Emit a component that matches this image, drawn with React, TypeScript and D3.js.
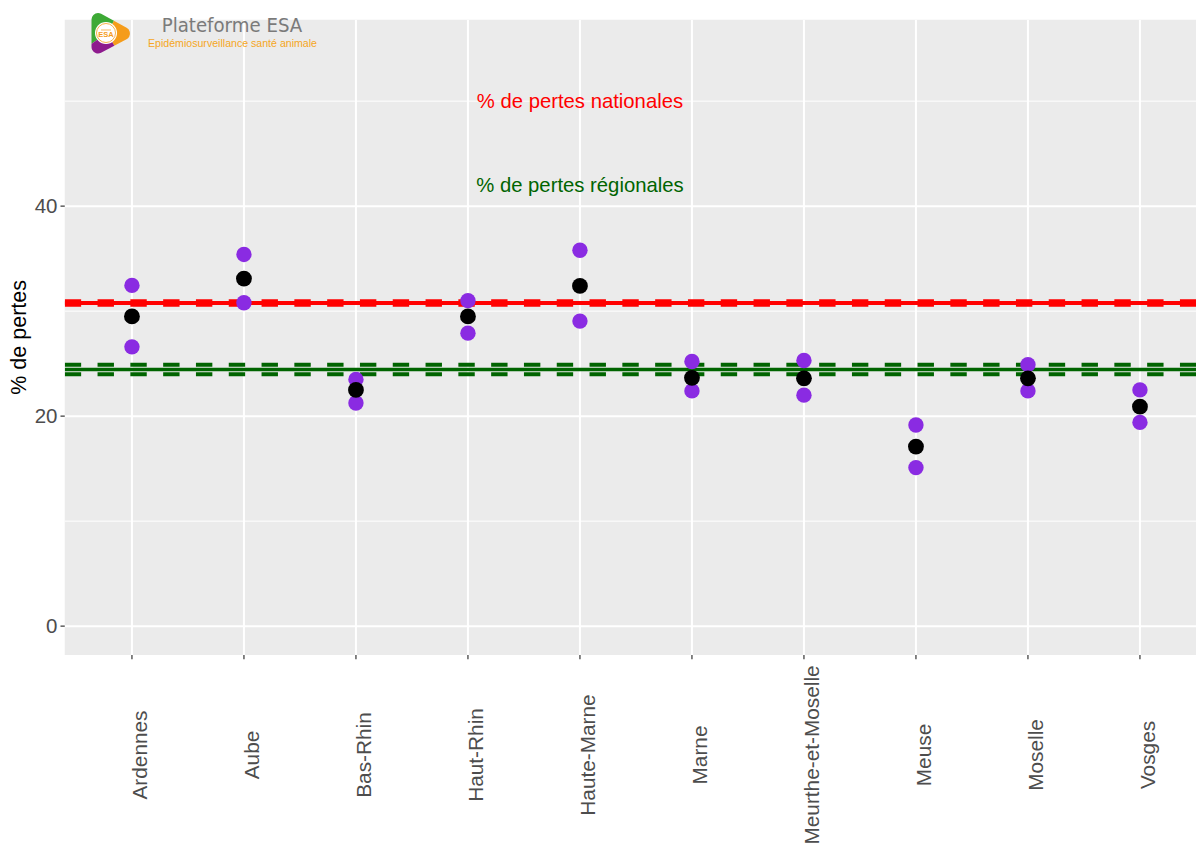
import React from "react";
import * as d3 from "d3";

const categories = ["Ardennes", "Aube", "Bas-Rhin", "Haut-Rhin", "Haute-Marne", "Marne", "Meurthe-et-Moselle", "Meuse", "Moselle", "Vosges"];
const moyenne = [29.5, 33.1, 22.5, 29.5, 32.4, 23.65, 23.6, 17.1, 23.6, 20.9];
const icHaut = [32.45, 35.4, 23.5, 31.0, 35.8, 25.2, 25.3, 19.15, 24.9, 22.5];
const icBas = [26.6, 30.8, 21.25, 27.9, 29.05, 22.4, 22.0, 15.1, 22.4, 19.4];

const national = 30.77;
const nationalHaut = 30.95;
const nationalBas = 30.6;
const regional = 24.45;
const regionalHaut = 24.9;
const regionalBas = 23.98;

const yMajor = [0, 20, 40];
const yMinor = [10, 30, 50];

const W = 1196;
const H = 846;
const panel = { left: 64.75, top: 19.75, right: 1207.15, bottom: 655 };

export default function App() {
  const x = d3.scalePoint<string>().domain(categories).range([panel.left, panel.right]).padding(0.6);
  const y = d3.scaleLinear().domain([-2.75, 57.75]).range([panel.bottom, panel.top]);
  const sans = "'Liberation Sans', Arial, Helvetica, sans-serif";
  const dash = "16.4 16.4";

  const logoC = [107, 33];
  const arc = d3.arc<any>().innerRadius(0).outerRadius(34);
  const deg = Math.PI / 180;
  const sectors = [
    { s: -125 * deg, e: 30 * deg, c: "#3DA935" },
    { s: 30 * deg, e: 150 * deg, c: "#F59C1A" },
    { s: 150 * deg, e: 235 * deg, c: "#8E1B8E" },
  ];

  return (
    <svg width={W} height={H} style={{ position: "absolute", left: 0, top: 0, background: "#fff" }} fontFamily={sans}>
      <defs>
        <clipPath id="panelClip">
          <rect x={panel.left} y={panel.top} width={panel.right - panel.left} height={panel.bottom - panel.top} />
        </clipPath>
        <mask id="logoMask">
          <path d="M98,19.5 L123.5,33.5 L98,47 Z" fill="#fff" stroke="#fff" strokeWidth={13} strokeLinejoin="round" />
        </mask>
      </defs>
      <rect x={panel.left} y={panel.top} width={panel.right - panel.left} height={panel.bottom - panel.top} fill="#EBEBEB" />
      <g clipPath="url(#panelClip)">
        {yMinor.map((v) => (
          <line key={"mi" + v} x1={panel.left} x2={panel.right} y1={y(v)} y2={y(v)} stroke="#fff" strokeWidth={1} />
        ))}
        {yMajor.map((v) => (
          <line key={"ma" + v} x1={panel.left} x2={panel.right} y1={y(v)} y2={y(v)} stroke="#fff" strokeWidth={2} />
        ))}
        {categories.map((c) => (
          <line key={"vx" + c} x1={x(c)} x2={x(c)} y1={panel.top} y2={panel.bottom} stroke="#fff" strokeWidth={2} />
        ))}
        <line x1={panel.left} x2={panel.right} y1={y(national)} y2={y(national)} stroke="#FF0000" strokeWidth={4} />
        <line x1={panel.left} x2={panel.right} y1={y(nationalHaut)} y2={y(nationalHaut)} stroke="#FF0000" strokeWidth={4} strokeDasharray={dash} />
        <line x1={panel.left} x2={panel.right} y1={y(nationalBas)} y2={y(nationalBas)} stroke="#FF0000" strokeWidth={4} strokeDasharray={dash} />
        <line x1={panel.left} x2={panel.right} y1={y(regional)} y2={y(regional)} stroke="#006400" strokeWidth={3.5} />
        <line x1={panel.left} x2={panel.right} y1={y(regionalHaut)} y2={y(regionalHaut)} stroke="#006400" strokeWidth={4} strokeDasharray={dash} />
        <line x1={panel.left} x2={panel.right} y1={y(regionalBas)} y2={y(regionalBas)} stroke="#006400" strokeWidth={4} strokeDasharray={dash} />
        {categories.map((c, i) => (
          <g key={"p" + c}>
            <circle cx={x(c)} cy={y(icHaut[i])} r={7.7} fill="#8A2BE2" />
            <circle cx={x(c)} cy={y(icBas[i])} r={7.7} fill="#8A2BE2" />
            <circle cx={x(c)} cy={y(moyenne[i])} r={7.9} fill="#000" />
          </g>
        ))}
        <text x={x("Haute-Marne")} y={y(50) + 7} textAnchor="middle" fontSize={20.3} fill="#FF0000">% de pertes nationales</text>
        <text x={x("Haute-Marne")} y={y(42) + 7} textAnchor="middle" fontSize={20.3} fill="#006400">% de pertes régionales</text>
      </g>
      {/* y axis */}
      {yMajor.map((v) => (
        <g key={"yt" + v}>
          <line x1={60.5} x2={panel.left} y1={y(v)} y2={y(v)} stroke="#333" strokeWidth={1.2} />
          <text x={57.5} y={y(v) + 7.2} textAnchor="end" fontSize={20.5} fill="#4D4D4D">{v}</text>
        </g>
      ))}
      <text transform={`translate(25.5,${(panel.top + panel.bottom) / 2}) rotate(-90)`} textAnchor="middle" fontSize={21.5} fill="#000">% de pertes</text>
      {/* x axis */}
      {categories.map((c) => (
        <g key={"xt" + c}>
          <line x1={x(c)} x2={x(c)} y1={panel.bottom} y2={panel.bottom + 4.3} stroke="#333" strokeWidth={1.2} />
          <text transform={`translate(${(x(c) as number) + 15.5},755) rotate(-90)`} textAnchor="middle" fontSize={20.8} fill="#4D4D4D">{c}</text>
        </g>
      ))}
      {/* logo */}
      <g mask="url(#logoMask)">
        {sectors.map((s, i) => (
          <path key={"s" + i} d={arc({ startAngle: s.s, endAngle: s.e }) as string} transform={`translate(${logoC[0]},${logoC[1]})`} fill={s.c} />
        ))}
      </g>
      <circle cx={logoC[0] - 1} cy={logoC[1]} r={11} fill="#fff" />
      <circle cx={logoC[0] - 1} cy={logoC[1]} r={9.5} fill="none" stroke="#F59C1A" strokeWidth={0.8} />
      <line x1={logoC[0] - 6} x2={logoC[0] + 4} y1={logoC[1] - 3} y2={logoC[1] - 3} stroke="#F59C1A" strokeWidth={0.7} />
      <text x={logoC[0] - 1} y={logoC[1] + 4} textAnchor="middle" fontSize={7.5} fontWeight="bold" fill="#F59C1A">ESA</text>
      <text x={161.7} y={31.7} fontSize={19.5} fill="#7A7A7A" fontFamily="'DejaVu Sans', sans-serif" textLength={140.5} lengthAdjust="spacingAndGlyphs">Plateforme ESA</text>
      <text x={148} y={46.7} fontSize={10.4} fill="#F5A623" textLength={169} lengthAdjust="spacingAndGlyphs">Epidémiosurveillance santé animale</text>
    </svg>
  );
}
